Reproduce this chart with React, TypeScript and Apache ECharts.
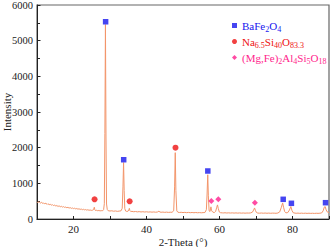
import React, { useEffect, useRef } from 'react';
import * as echarts from 'echarts';

// XRD pattern: [2-Theta (deg), Intensity]
const pattern: [number, number][] = [
  [10.0, 482], [10.25, 455], [10.5, 490], [10.75, 462], [11.0, 447], [11.25, 471], [11.5, 438], [11.75, 452],
  [12.0, 425], [12.25, 446], [12.5, 418], [12.75, 431], [13.0, 405], [13.25, 424], [13.5, 398], [13.75, 410],
  [14.0, 388], [14.25, 402], [14.5, 376], [14.75, 391], [15.0, 368], [15.25, 382], [15.5, 357], [15.75, 371],
  [16.0, 352], [16.25, 364], [16.5, 341], [16.75, 355], [17.0, 333], [17.25, 347], [17.5, 326], [17.75, 338],
  [18.0, 318], [18.25, 331], [18.5, 311], [18.75, 322], [19.0, 305], [19.25, 316], [19.5, 296], [19.75, 309],
  [20.0, 292], [20.25, 303], [20.5, 285], [20.75, 296], [21.0, 279], [21.25, 290], [21.5, 272], [21.75, 283],
  [22.0, 268], [22.25, 277], [22.5, 261], [22.75, 272], [23.0, 257], [23.25, 266], [23.5, 250], [23.75, 261],
  [24.0, 248], [24.25, 256], [24.5, 242], [24.75, 252], [25.0, 240], [25.25, 249], [25.5, 262], [25.7, 330],
  [25.85, 258], [26.0, 238], [26.25, 246], [26.5, 232], [26.75, 241], [27.0, 229], [27.25, 238], [27.5, 226],
  [27.75, 236], [28.0, 232], [28.25, 262], [28.45, 430], [28.6, 2400], [28.75, 5450], [28.9, 2300], [29.05, 420],
  [29.25, 268], [29.5, 232], [30.0, 224], [30.5, 230], [31.0, 218], [31.5, 226], [32.0, 214], [32.5, 222],
  [33.0, 228], [33.35, 300], [33.55, 900], [33.72, 1580], [33.88, 800], [34.05, 290], [34.3, 222], [34.6, 212],
  [34.95, 220], [35.15, 250], [35.3, 300], [35.45, 235], [35.7, 208], [36.0, 214], [36.5, 204], [37.0, 210],
  [37.5, 200], [38.0, 207], [38.5, 198], [39.0, 204], [39.5, 196], [40.0, 202], [40.5, 194], [41.0, 199],
  [41.5, 192], [42.0, 198], [42.5, 190], [43.0, 196], [43.4, 218], [43.7, 195], [44.0, 189], [44.5, 194],
  [45.0, 186], [45.5, 192], [46.0, 185], [46.5, 190], [47.0, 188], [47.45, 230], [47.7, 900], [47.88, 1860],
  [48.05, 800], [48.3, 230], [48.6, 190], [49.0, 182], [49.5, 188], [50.0, 180], [50.5, 186], [51.0, 178],
  [51.5, 184], [52.0, 177], [52.5, 183], [53.0, 176], [53.5, 182], [54.0, 175], [54.5, 180], [55.0, 174],
  [55.5, 179], [56.0, 182], [56.4, 260], [56.6, 700], [56.78, 1240], [56.95, 650], [57.15, 230], [57.4, 210],
  [57.65, 340], [57.85, 230], [58.2, 190], [58.6, 182], [58.95, 215], [59.25, 330], [59.45, 395], [59.65, 300],
  [59.95, 195], [60.3, 176], [60.8, 172], [61.0, 169], [61.5, 175], [62.0, 168], [62.5, 173], [63.0, 167],
  [63.5, 172], [64.0, 166], [64.5, 171], [65.0, 165], [65.5, 170], [66.0, 164], [66.5, 169], [67.0, 163],
  [67.5, 168], [68.0, 166], [68.5, 170], [69.0, 190], [69.35, 250], [69.6, 310], [69.85, 240], [70.1, 185],
  [70.5, 166], [71.0, 163], [71.5, 168], [72.0, 162], [72.5, 167], [73.0, 161], [73.5, 166], [74.0, 160],
  [74.5, 165], [75.0, 163], [75.5, 160], [76.0, 168], [76.5, 200], [76.95, 330], [77.3, 450], [77.55, 330],
  [77.85, 210], [78.2, 172], [78.7, 180], [79.15, 250], [79.55, 350], [79.85, 240], [80.2, 175], [80.7, 165],
  [81.0, 160], [81.5, 165], [82.0, 159], [82.5, 164], [83.0, 158], [83.5, 163], [84.0, 157], [84.5, 162],
  [85.0, 157], [85.5, 161], [86.0, 156], [86.5, 161], [87.0, 158], [87.5, 162], [88.0, 170], [88.4, 230],
  [88.7, 330], [88.95, 350], [89.2, 260], [89.5, 200], [90.0, 175],
];

// Phase markers [2-Theta, marker height]
const bafe2o4Marks: [number, number][] = [
  [28.8, 5530], [33.75, 1662], [56.8, 1346], [77.45, 552], [79.7, 440], [89.05, 457],
];
const naSiOMarks: [number, number][] = [
  [25.77, 552], [35.38, 496], [47.94, 2000],
];
const cordieriteMarks: [number, number][] = [
  [57.75, 505], [59.67, 552], [69.7, 457],
];

const phaseNames = ['BaFe2O4', 'Na6.5Si40O83.3', '(Mg,Fe)2Al4Si5O18'];
const phaseKeys = ['b', 'r', 'm'];
const phaseColors = ['#1616EE', '#EE1111', '#FF1E8C'];

const xMin = 10;
const xMax = 90;
const yMin = 0;
const yMax = 6000;

const FONT = 'Liberation Serif';

function toRich(name: string): string {
  const idx = phaseNames.indexOf(name);
  const k = phaseKeys[idx] || 'b';
  const parts = name.match(/[0-9.]+|[^0-9.]+/g) || [];
  return parts
    .map((p) => (/^[0-9.]+$/.test(p) ? `{${k}s|${p}}` : `{${k}|${p}}`))
    .join('');
}

const rich: Record<string, any> = {};
phaseKeys.forEach((k, i) => {
  rich[k] = {
    color: phaseColors[i],
    fontSize: 11,
    fontFamily: FONT,
    lineHeight: 12,
  };
  rich[k + 's'] = {
    color: phaseColors[i],
    fontSize: 8,
    fontFamily: FONT,
    lineHeight: 8,
    padding: [7, 0, 0, 0],
  };
});

export default function App() {
  const ref = useRef<HTMLDivElement>(null);

  useEffect(() => {
    if (!ref.current) return;
    const chart = echarts.init(ref.current, undefined, { renderer: 'svg' });
    const markSeries = [bafe2o4Marks, naSiOMarks, cordieriteMarks].map((d, i) => ({
      type: 'scatter' as const,
      name: phaseNames[i],
      data: d,
      symbol: ['rect', 'circle', 'diamond'][i],
      symbolSize: [5.5, 6, 6][i],
      itemStyle: { color: phaseColors[i] },
      z: 5,
    }));
    chart.setOption({
      animation: false,
      backgroundColor: '#ffffff',
      textStyle: { fontFamily: FONT },
      grid: {
        left: 37,
        right: 2,
        top: 5,
        bottom: 28,
        show: true,
        borderColor: '#666666',
        borderWidth: 1.2,
        outerBoundsMode: 'none',
      },
      legend: {
        data: phaseNames,
        orient: 'vertical',
        left: 227,
        top: 13,
        itemWidth: 5,
        itemHeight: 5,
        itemGap: 1,
        formatter: (n: string) => toRich(n),
        textStyle: { fontFamily: FONT, fontSize: 11, rich },
      },
      xAxis: {
        type: 'value',
        min: xMin,
        max: xMax,
        interval: 10,
        name: '2-Theta (°)',
        nameLocation: 'middle',
        nameGap: 17,
        nameMoveOverlap: false,
        nameTextStyle: { fontFamily: FONT, fontSize: 11, color: '#222' },
        axisLine: { show: true, onZero: false, lineStyle: { color: '#222', width: 1 } },
        axisTick: { show: true, inside: true, length: 3, lineStyle: { color: '#222' } },
        axisLabel: {
          margin: 4,
          fontFamily: FONT,
          fontSize: 11,
          color: '#222',
          formatter: (v: number) => (v % 20 === 0 && v > xMin && v < xMax ? String(v) : ''),
        },
        splitLine: { show: false },
      },
      yAxis: {
        type: 'value',
        min: yMin,
        max: yMax,
        interval: 1000,
        name: 'Intensity',
        nameLocation: 'middle',
        nameGap: 25,
        nameMoveOverlap: false,
        nameTextStyle: { fontFamily: FONT, fontSize: 11, color: '#222' },
        axisLine: { show: true, lineStyle: { color: '#222', width: 1 } },
        axisTick: { show: true, inside: true, length: 3.5, lineStyle: { color: '#222' } },
        minorTick: { show: true, splitNumber: 2, length: 3, lineStyle: { color: '#222' } },
        axisLabel: {
          margin: 4,
          fontFamily: FONT,
          fontSize: 10.5,
          color: '#222',
          formatter: (v: number) => String(v),
        },
        splitLine: { show: false },
      },
      series: [
        {
          type: 'line',
          name: 'pattern',
          data: pattern,
          showSymbol: false,
          symbol: 'none',
          lineStyle: { color: '#F3956A', width: 1 },
          z: 2,
        },
        ...markSeries,
      ],
    });
    return () => chart.dispose();
  }, []);

  return (
    <div
      ref={ref}
      style={{ position: 'fixed', left: 0, top: 0, width: 331, height: 247, background: '#fff' }}
    />
  );
}
